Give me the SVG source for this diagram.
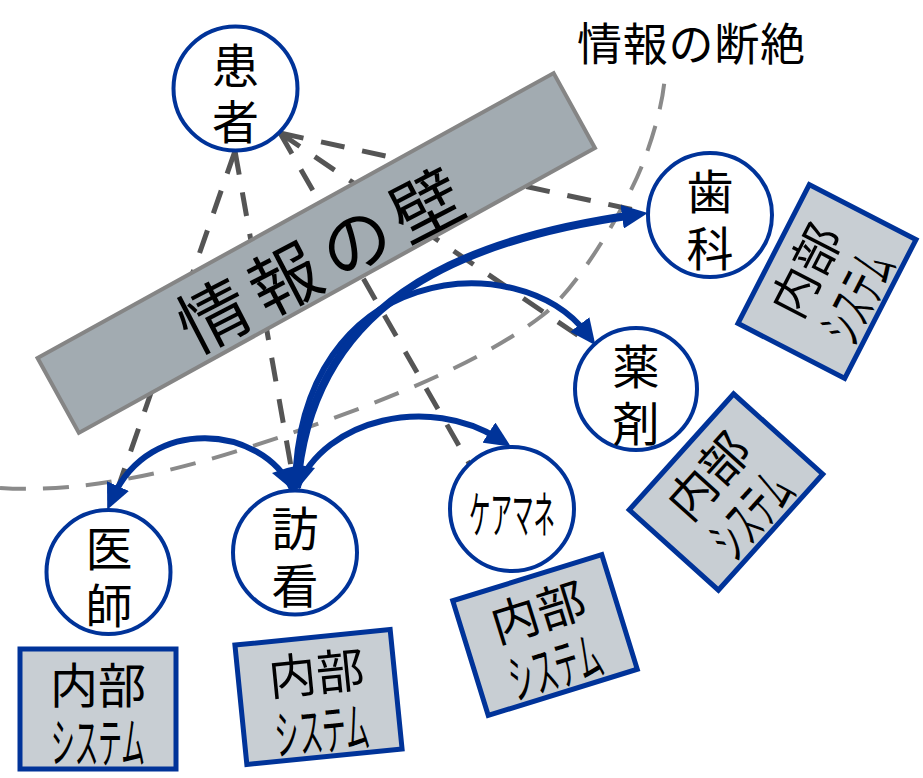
<svg xmlns="http://www.w3.org/2000/svg" width="923" height="778" viewBox="0 0 923 778">
<defs>
<style>
.lbl{font-family:"Noto Sans CJK JP","Noto Sans CJK SC",sans-serif;fill:#000;text-anchor:middle;dominant-baseline:central}
.node circle{fill:#fff;stroke:#003399;stroke-width:4}
.node text{font-size:47px}
.sys rect{fill:#c8ced3;stroke:#003399;stroke-width:5}
.sys .t1{font-size:48px}
.sys .t2{font-size:54px}
.pd{fill:none;stroke:#555;stroke-width:5;stroke-dasharray:24 18}
.gap{fill:none;stroke:#8a8a8a;stroke-width:4;stroke-dasharray:26 17}
.arr{fill:none;stroke:#003399;stroke-width:6;marker-end:url(#ah)}
</style>
<marker id="ah" markerUnits="userSpaceOnUse" markerWidth="26" markerHeight="24" viewBox="0 0 26 24" refX="12" refY="12" orient="auto">
<path d="M0,0 L26,12 L0,24 z" fill="#003399"/>
</marker>
</defs>

<g id="disconnect">
<path class="gap" d="M0,488 C90,494 190,468 280,437 C365,408 476,367 543,315 C578.5,287.5 627,205 643,163 C653.7,135 664,100 665,73"/>
<text class="lbl" x="691" y="41" font-size="45" textLength="228" lengthAdjust="spacing">情報の断絶</text>
</g>

<g id="patient-links">
<line class="pd" x1="235" y1="151" x2="112" y2="505"/>
<line class="pd" x1="235" y1="151" x2="295" y2="489"/>
<line class="pd" x1="280" y1="133" x2="470" y2="465"/>
<line class="pd" x1="280" y1="133" x2="595" y2="347"/>
<line class="pd" x1="280" y1="133" x2="648" y2="213"/>
</g>

<g id="wall" transform="translate(316.25,253) rotate(-28.9)">
<rect x="-294.75" y="-42.75" width="589.5" height="85.5" fill="#a2abb1" stroke="#858585" stroke-width="4"/>
<text class="lbl" x="0" y="4" font-size="70" textLength="310" lengthAdjust="spacing" transform="rotate(1.5)">情報の壁</text>
</g>

<g id="patient" class="node">
<circle cx="235.5" cy="88.5" r="62"/>
<text class="lbl"><tspan x="235.5" y="62">患</tspan><tspan x="235.5" y="118">者</tspan></text>
</g>

<g id="dental" class="node">
<circle cx="710" cy="215" r="62"/>
<text class="lbl"><tspan x="710" y="188">歯</tspan><tspan x="710" y="245">科</tspan></text>
</g>

<g id="pharmacy" class="node">
<circle cx="636" cy="389" r="61"/>
<text class="lbl"><tspan x="636" y="363">薬</tspan><tspan x="636" y="420">剤</tspan></text>
</g>

<g id="caremanager" class="node">
<circle cx="512" cy="509" r="62"/>
<text class="lbl" x="512" y="511" style="font-size:50px" textLength="86" lengthAdjust="spacingAndGlyphs">ケアマネ</text>
</g>

<g id="doctor" class="node">
<circle cx="108.5" cy="572" r="62"/>
<text class="lbl"><tspan x="109" y="545">医</tspan><tspan x="109" y="602">師</tspan></text>
</g>

<g id="visitnurse" class="node">
<circle cx="295" cy="552.5" r="62"/>
<text class="lbl"><tspan x="295" y="525">訪</tspan><tspan x="295" y="582">看</tspan></text>
</g>

<g id="sys-doctor" class="sys" transform="translate(98,709)">
<rect x="-78" y="-60" width="156" height="120"/>
<text class="lbl"><tspan class="t1" x="0" y="-27">内部</tspan><tspan class="t2" x="0" y="30" textLength="94" lengthAdjust="spacingAndGlyphs">システム</tspan></text>
</g>

<g id="sys-visitnurse" class="sys" transform="translate(318.5,697) rotate(-5.7)">
<rect x="-78" y="-60" width="156" height="120"/>
<text class="lbl"><tspan class="t1" x="0" y="-27">内部</tspan><tspan class="t2" x="0" y="30" textLength="94" lengthAdjust="spacingAndGlyphs">システム</tspan></text>
</g>

<g id="sys-caremanager" class="sys" transform="translate(545,635) rotate(-17.2)">
<rect x="-78" y="-60" width="156" height="120"/>
<text class="lbl"><tspan class="t1" x="0" y="-27">内部</tspan><tspan class="t2" x="0" y="30" textLength="94" lengthAdjust="spacingAndGlyphs">システム</tspan></text>
</g>

<g id="sys-pharmacy" class="sys" transform="translate(726,492) rotate(-48)">
<rect x="-78" y="-60" width="156" height="120"/>
<text class="lbl"><tspan class="t1" x="0" y="-27">内部</tspan><tspan class="t2" x="0" y="30" textLength="94" lengthAdjust="spacingAndGlyphs">システム</tspan></text>
</g>

<g id="sys-dental" class="sys" transform="translate(827,281.5) rotate(-62.8)">
<rect x="-78" y="-60" width="156" height="120"/>
<text class="lbl"><tspan class="t1" x="0" y="-27">内部</tspan><tspan class="t2" x="0" y="30" textLength="94" lengthAdjust="spacingAndGlyphs">システム</tspan></text>
</g>

<g id="connectors">
<path class="arr" d="M292,489 C262,425 150,415 113,497"/>
<path class="arr" d="M297,488 C325,418 430,395 499,439"/>
<path class="arr" d="M295,488 C298,260 520,245 587,334"/>
<path class="arr" style="stroke-width:8" d="M297,488 C310,305 455,240 634,215"/>
<polygon points="272,473 287,468 300,465 315,468 295,492" fill="#003399"/>
</g>
</svg>
